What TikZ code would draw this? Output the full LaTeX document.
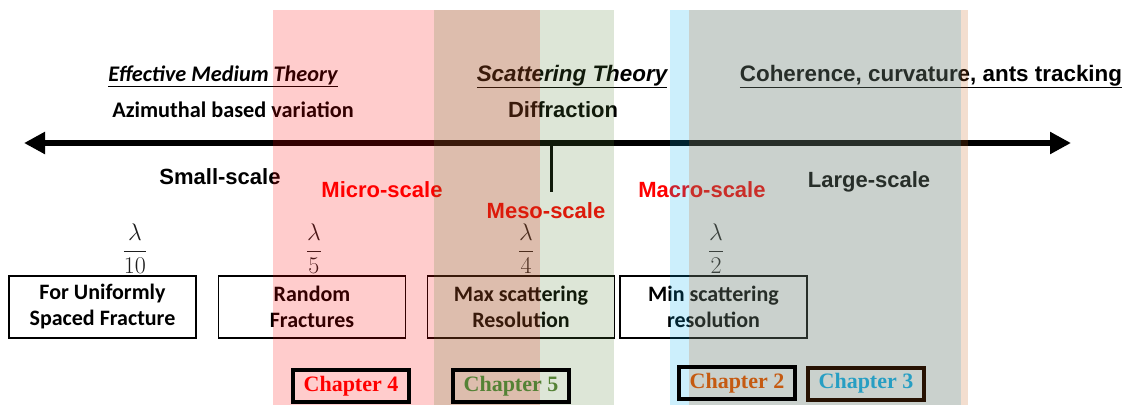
\RequirePackage{fix-cm}
\documentclass[tikz,border=0pt]{standalone}
\usepackage{fontspec}
\setmainfont{Carlito}
\newfontfamily\arialf{Liberation Sans}
\newfontfamily\timesf{Liberation Serif}
\usetikzlibrary{arrows.meta}
\definecolor{cred}{RGB}{255,0,0}
\definecolor{cgreen}{RGB}{84,130,53}
\definecolor{corange}{RGB}{197,90,17}
\definecolor{cblue}{RGB}{0,176,240}
\definecolor{cbrown}{RGB}{43,23,8}
\definecolor{mathgray}{RGB}{30,30,30}
\tikzset{
  every node/.style={inner sep=0pt, outer sep=0pt},
  calt/.style={anchor=base, font=\fontsize{16.7}{19.5}\selectfont\bfseries},
  arlt/.style={anchor=base, font=\fontsize{16.5}{19.5}\selectfont\arialf\bfseries},
  arltit/.style={anchor=base, font=\fontsize{16.8}{19.5}\selectfont\arialf\bfseries\itshape},
  scalelbl/.style={anchor=base, font=\fontsize{16.5}{19.5}\selectfont\arialf\bfseries},
  fraclbl/.style={text=mathgray, font=\fontsize{18}{22}\selectfont},
  infobox/.style={draw=black, line width=0.8pt, minimum width=140.25pt, minimum height=46.5pt,
                  align=center, font=\fontsize{16.5}{19.5}\selectfont\bfseries},
  chapbox/.style={draw=black, line width=3pt, minimum width=87pt, minimum height=24pt,
                  font=\fontsize{16.5}{19.5}\selectfont\timesf\bfseries},
  band/.style={fill opacity=0.2}
}
\begin{document}
\begin{tikzpicture}[x=0.75pt,y=-0.75pt]
\useasboundingbox (0,0) rectangle (1132,405);

% top titles
\node[calt] (emt) at (223,81) {\underline{\itshape Effective Medium Theory}};
\node[calt] (azi) at (233,117) {Azimuthal based variation};
\node[arltit] (sct) at (572,81) {\underline{Scattering Theory}};
\node[arlt] (dif) at (563,117) {Diffraction};
\node[arlt, font=\fontsize{16.8}{19.5}\selectfont\arialf\bfseries] (coh) at (931,81) {\underline{Coherence, curvature, ants tracking}};

% main axis
\coordinate (L) at (24,143);
\coordinate (R) at (1071,143);
\draw[line width=5pt, {Triangle[length=15.75pt,width=15.75pt]}-{Triangle[length=15.75pt,width=15.75pt]}] (L) -- (R);
\coordinate (T1) at (551,143);
\coordinate (T2) at (551,192);
\draw[line width=2.25pt] (T1) -- (T2);

% scale labels
\node[scalelbl] (small) at (220,184) {Small-scale};
\node[scalelbl, text=cred] (micro) at (382,197) {Micro-scale};
\node[scalelbl, text=cred] (meso) at (546,218) {Meso-scale};
\node[scalelbl, text=cred] (macro) at (702,197) {Macro-scale};
\node[scalelbl] (large) at (869,187) {Large-scale};

% fractions
\node[fraclbl] (f10) at (135,249) {$\displaystyle\frac{\lambda}{10}$};
\node[fraclbl] (f5) at (314,249) {$\displaystyle\frac{\lambda}{5}$};
\node[fraclbl] (f4) at (526,249) {$\displaystyle\frac{\lambda}{4}$};
\node[fraclbl] (f2) at (716,249) {$\displaystyle\frac{\lambda}{2}$};

% info boxes
\node[infobox] (b1) at (102.5,307) {For Uniformly\\Spaced Fracture};
\node[infobox] (b2) at (312,307) {Random\\Fractures};
\node[infobox] (b3) at (521,307) {Max scattering\\Resolution};
\node[infobox] (b4) at (713.5,307) {Min scattering\\resolution};

% translucent bands
\fill[band, cred] (273,10) rectangle (540,405);
\fill[band, cgreen] (434,10) rectangle (614,405);
\fill[band, cblue] (670,10) rectangle (961,405);
\node[chapbox, draw=black, text=cblue] (ch3) at (866,383.5) {Chapter 3};
\fill[band, corange] (689,10) rectangle (968,405);

% chapter boxes on top
\node[chapbox, text=cred] (ch4) at (351,386) {Chapter 4};
\node[chapbox, text=cgreen] (ch5) at (511,386) {Chapter 5};
\node[chapbox, text=corange] (ch2) at (737,383) {Chapter 2};
\end{tikzpicture}
\end{document}
